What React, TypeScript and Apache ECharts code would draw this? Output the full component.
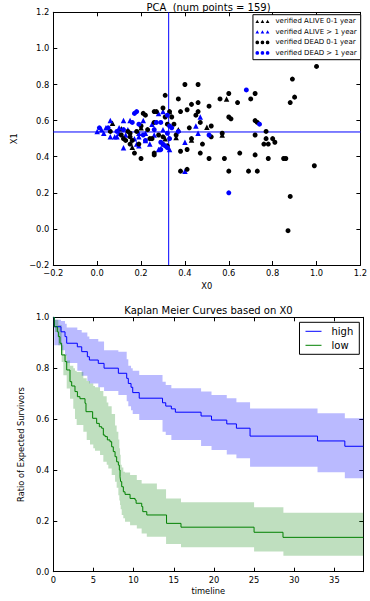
import React, { useEffect, useRef } from 'react';
import * as echarts from 'echarts';

const FONT = 'DejaVu Sans';

const pcaTitle = 'PCA  (num points = 159)';
const kmTitle = 'Kaplan Meier Curves based on X0';
const scatterNames = ['verified ALIVE 0-1 year', 'verified ALIVE > 1 year', 'verified DEAD 0-1 year', 'verified DEAD > 1 year'];
const kmNames = ['high', 'low'];

const splitX = 0.326;
const splitY = 0.537;

const aliveShort = [
  [0.07, 0.585], [0.11, 0.555], [0.16, 0.452], [0.33, 0.649], [0.36, 0.507], [0.43, 0.492],
  [0.5, 0.563], [0.57, 0.52], [0.59, 0.72], [0.37, 0.55], [0.2, 0.56], [0.31, 0.5],
];
const aliveLong = [
  [0.06, 0.6], [0.0, 0.54], [0.03, 0.53], [0.06, 0.51], [0.08, 0.51], [0.09, 0.51], [0.1, 0.53],
  [0.12, 0.6], [0.12, 0.45], [0.15, 0.6], [0.18, 0.47], [0.19, 0.53], [0.19, 0.51], [0.19, 0.46],
  [0.22, 0.53], [0.24, 0.47], [0.25, 0.58], [0.28, 0.44], [0.28, 0.64], [0.3, 0.65], [0.33, 0.44],
  [0.4, 0.48], [0.45, 0.57], [0.46, 0.53], [0.47, 0.62], [0.4, 0.32], [0.1, 0.56], [0.02, 0.55],
  [0.14, 0.55], [0.17, 0.5], [0.22, 0.49], [0.26, 0.52], [0.3, 0.55], [0.04, 0.56], [0.13, 0.52],
  [0.21, 0.6], [0.3, 0.47],
];
const deadShort = [
  [1.0, 0.9], [0.89, 0.83], [0.9, 0.73], [0.88, 0.7], [0.4, 0.8], [0.46, 0.8], [0.31, 0.74],
  [0.37, 0.72], [0.43, 0.69], [0.46, 0.7], [0.38, 0.65], [0.41, 0.66], [0.46, 0.65], [0.51, 0.68],
  [0.56, 0.72], [0.64, 0.7], [0.7, 0.72], [0.72, 0.75], [0.6, 0.75], [0.26, 0.65], [0.3, 0.67],
  [0.21, 0.64], [0.22, 0.63], [0.26, 0.59], [0.31, 0.62], [0.33, 0.65], [0.06, 0.54], [0.12, 0.5],
  [0.13, 0.49], [0.14, 0.54], [0.15, 0.53], [0.15, 0.51], [0.15, 0.47], [0.17, 0.42], [0.19, 0.47],
  [0.2, 0.39], [0.2, 0.57], [0.24, 0.5], [0.25, 0.5], [0.26, 0.42], [0.27, 0.65], [0.3, 0.51],
  [0.32, 0.58], [0.32, 0.46], [0.34, 0.62], [0.35, 0.58], [0.38, 0.43], [0.41, 0.44], [0.45, 0.63],
  [0.47, 0.59], [0.47, 0.42], [0.48, 0.47], [0.52, 0.51], [0.52, 0.57], [0.51, 0.39], [0.57, 0.53],
  [0.58, 0.39], [0.6, 0.62], [0.61, 0.61], [0.6, 0.32], [0.65, 0.42], [0.69, 0.32], [0.72, 0.6],
  [0.73, 0.59], [0.72, 0.52], [0.72, 0.41], [0.73, 0.32], [0.77, 0.54], [0.76, 0.47], [0.77, 0.5],
  [0.78, 0.47], [0.78, 0.39], [0.8, 0.5], [0.81, 0.48], [0.85, 0.39], [0.86, 0.39], [0.88, 0.18],
  [0.87, -0.01], [0.99, 0.35], [0.38, 0.32], [0.41, 0.33], [0.26, 0.41], [0.43, 0.5], [0.18, 0.54],
  [0.23, 0.55], [0.11, 0.52], [0.16, 0.49], [0.28, 0.52], [0.42, 0.56], [0.36, 0.52],
];
const deadLong = [
  [0.01, 0.56], [0.05, 0.56], [0.12, 0.55], [0.16, 0.59], [0.17, 0.64], [0.18, 0.65], [0.19, 0.58],
  [0.21, 0.52], [0.22, 0.49], [0.26, 0.55], [0.27, 0.59], [0.29, 0.59], [0.29, 0.48], [0.3, 0.47],
  [0.29, 0.44], [0.31, 0.46], [0.32, 0.45], [0.32, 0.63], [0.33, 0.57], [0.34, 0.56], [0.33, 0.5],
  [0.37, 0.54], [0.51, 0.52], [0.68, 0.77], [0.74, 0.58], [0.6, 0.2], [0.32, 0.53], [0.09, 0.54],
];

// Kaplan-Meier survival (t, s)
const highLine = [
  [0, 1.0], [0.13, 0.963], [0.96, 0.943], [1.46, 0.924], [1.67, 0.898], [2.99, 0.884], [3.54, 0.865],
  [4.24, 0.845], [4.49, 0.832], [5.6, 0.819], [6.32, 0.8], [8.1, 0.78], [9.14, 0.76], [9.34, 0.74],
  [9.68, 0.725], [9.89, 0.704], [10.7, 0.682], [13.6, 0.664], [14.0, 0.651], [14.7, 0.64],
  [15.2, 0.627], [18.4, 0.612], [19.7, 0.596], [21.6, 0.581], [22.8, 0.564], [24.5, 0.533],
  [32.9, 0.514], [36.3, 0.493], [38.6, 0.493],
];
// (t, lower, upper)
const highBand = [
  [0, 1.0, 1.0], [0.13, 0.89, 0.99], [0.96, 0.87, 0.985], [1.46, 0.85, 0.975], [1.67, 0.82, 0.96],
  [2.99, 0.79, 0.95], [3.54, 0.77, 0.94], [4.24, 0.75, 0.925], [4.49, 0.74, 0.915], [5.6, 0.725, 0.905],
  [6.32, 0.71, 0.87], [8.1, 0.695, 0.865], [9.14, 0.67, 0.835], [9.34, 0.65, 0.81], [9.68, 0.635, 0.8],
  [9.89, 0.62, 0.79], [10.7, 0.596, 0.773], [13.6, 0.55, 0.747], [14.0, 0.537, 0.734],
  [14.7, 0.518, 0.721], [18.4, 0.494, 0.708], [19.7, 0.478, 0.695], [21.6, 0.461, 0.682],
  [22.8, 0.446, 0.666], [24.5, 0.413, 0.642], [32.9, 0.391, 0.623], [36.3, 0.367, 0.603],
  [38.6, 0.367, 0.603],
];
const lowLine = [
  [0, 1.0], [0.13, 0.963], [0.5, 0.943], [0.63, 0.924], [0.83, 0.898], [1.04, 0.852], [1.46, 0.826],
  [1.67, 0.793], [2.08, 0.747], [2.29, 0.73], [2.7, 0.708], [3.0, 0.688], [3.32, 0.68], [3.95, 0.662],
  [4.07, 0.629], [4.9, 0.603], [5.4, 0.583], [5.73, 0.57], [6.02, 0.564], [6.23, 0.537], [6.44, 0.531],
  [6.73, 0.518], [7.06, 0.511], [7.27, 0.491], [7.47, 0.472], [7.69, 0.452], [7.89, 0.432],
  [8.1, 0.419], [8.22, 0.4], [8.31, 0.373], [8.39, 0.354], [8.52, 0.334], [8.72, 0.314],
  [8.93, 0.304], [9.56, 0.288], [10.18, 0.282], [10.31, 0.269], [11.01, 0.256], [11.14, 0.236],
  [11.64, 0.223], [14.1, 0.19], [15.9, 0.175], [25.0, 0.155], [28.6, 0.135], [38.6, 0.135],
];
const lowBand = [
  [0, 1.0, 1.0], [0.21, 0.942, 0.99], [0.62, 0.89, 0.97], [1.04, 0.824, 0.89], [1.25, 0.772, 0.855],
  [1.67, 0.72, 0.83], [2.08, 0.68, 0.81], [2.49, 0.641, 0.8], [2.7, 0.6, 0.79], [2.91, 0.577, 0.785],
  [3.74, 0.55, 0.76], [4.16, 0.518, 0.75], [4.57, 0.5, 0.74], [4.98, 0.485, 0.73], [5.19, 0.475, 0.725],
  [5.82, 0.459, 0.71], [6.23, 0.432, 0.69], [6.65, 0.42, 0.665], [6.85, 0.406, 0.65], [7.27, 0.38, 0.62],
  [7.69, 0.354, 0.575], [7.89, 0.33, 0.55], [8.1, 0.301, 0.52], [8.22, 0.28, 0.485], [8.31, 0.262, 0.46],
  [8.39, 0.245, 0.42], [8.52, 0.223, 0.41], [8.72, 0.21, 0.393], [8.93, 0.196, 0.39], [9.56, 0.183, 0.38],
  [10.4, 0.17, 0.36], [11.0, 0.15, 0.347], [11.64, 0.137, 0.347], [12.9, 0.137, 0.324],
  [14.04, 0.109, 0.288], [15.9, 0.096, 0.273], [25.0, 0.079, 0.253], [28.65, 0.063, 0.232],
  [38.6, 0.063, 0.232],
];

const kmMax = 38.6;
const pcaMin = -0.2;
const pcaMax = 1.2;

const triIcon = 'path://M0,5L2.5,0.5L5,5ZM7,5L9.5,0.5L12,5ZM14,5L16.5,0.5L19,5Z';
const dotIcon =
  'path://M0,2.5A2.5,2.5,0,1,0,5,2.5A2.5,2.5,0,1,0,0,2.5ZM7,2.5A2.5,2.5,0,1,0,12,2.5A2.5,2.5,0,1,0,7,2.5ZM14,2.5A2.5,2.5,0,1,0,19,2.5A2.5,2.5,0,1,0,14,2.5Z';

const minus = (s: string) => s.replace('-', '\u2212');
const fmt1 = (v: number) => minus(v.toFixed(1));

function axis(grid: number, position: string, min: number, max: number, interval: number, label: boolean, formatter: any, extra: any = {}) {
  return {
    type: 'value',
    gridIndex: grid,
    position,
    min,
    max,
    interval,
    axisLine: { show: true, onZero: false, lineStyle: { color: '#000', width: 1 } },
    axisTick: { show: true, inside: true, length: 4, lineStyle: { color: '#000' } },
    axisLabel: {
      show: label,
      fontSize: 8.3,
      color: '#000',
      fontFamily: FONT,
      margin: 4,
      showMinLabel: true,
      showMaxLabel: true,
      formatter,
    },
    splitLine: { show: false },
    nameTextStyle: { fontSize: 8.3, color: '#000', fontFamily: FONT },
    ...extra,
  };
}

// step polygon of a confidence band, through the axis scale (api.coord)
function bandSeries(name: string, data: number[][], color: string) {
  return {
    type: 'custom',
    name,
    xAxisIndex: 2,
    yAxisIndex: 2,
    silent: true,
    z: 1,
    data: [[data[0][0], data[0][1]]],
    renderItem: (_params: any, api: any) => {
      const pts: number[][] = [];
      for (let i = 0; i < data.length; i++) {
        if (i > 0) pts.push(api.coord([data[i][0], data[i - 1][2]]));
        pts.push(api.coord([data[i][0], data[i][2]]));
      }
      for (let i = data.length - 1; i >= 0; i--) {
        pts.push(api.coord([data[i][0], data[i][1]]));
        if (i > 0) pts.push(api.coord([data[i][0], data[i - 1][1]]));
      }
      return { type: 'polygon', shape: { points: pts }, style: { fill: color, stroke: 'none' } };
    },
  };
}

function buildOption() {
  const scatter = (name: string, data: number[][], symbol: string, color: string, size: number) => ({
    type: 'scatter',
    name,
    xAxisIndex: 0,
    yAxisIndex: 0,
    data,
    symbol,
    symbolSize: size,
    itemStyle: { color, opacity: 1 },
    z: 3,
  });

  const refLine = (name: string, data: number[][]) => ({
    type: 'line',
    name,
    xAxisIndex: 0,
    yAxisIndex: 0,
    data,
    symbol: 'none',
    showSymbol: false,
    silent: true,
    lineStyle: { color: '#0000ff', width: 1 },
    itemStyle: { color: '#0000ff' },
    z: 2,
  });

  const kmLine = (name: string, data: number[][], color: string) => ({
    type: 'line',
    name,
    xAxisIndex: 2,
    yAxisIndex: 2,
    data,
    step: 'end',
    symbol: 'none',
    showSymbol: false,
    lineStyle: { color, width: 1 },
    itemStyle: { color },
    z: 3,
  });

  return {
    animation: false,
    textStyle: { fontFamily: FONT },
    grid: [
      { left: 53.3, top: 12.3, width: 310, height: 252.7 },
      { left: 53.3, top: 317.3, width: 310, height: 254.4 },
    ],
    xAxis: [
      axis(0, 'bottom', pcaMin, pcaMax, 0.2, true, fmt1, { name: 'X0', nameLocation: 'middle', nameGap: 17 }),
      axis(0, 'top', pcaMin, pcaMax, 0.2, false, fmt1),
      axis(1, 'bottom', 0, kmMax, 5, true, (v: number) => (v % 5 === 0 ? String(v) : ''), {
        name: 'timeline',
        nameLocation: 'middle',
        nameGap: 15,
      }),
      axis(1, 'top', 0, kmMax, 5, false, null),
    ],
    yAxis: [
      axis(0, 'left', pcaMin, pcaMax, 0.2, true, fmt1, { name: 'X1', nameLocation: 'middle', nameGap: 27, nameRotate: 90 }),
      axis(0, 'right', pcaMin, pcaMax, 0.2, false, fmt1),
      axis(1, 'left', 0, 1, 0.2, true, fmt1, {
        name: 'Ratio of Expected Survivors',
        nameLocation: 'middle',
        nameGap: 20,
        nameRotate: 90,
      }),
      axis(1, 'right', 0, 1, 0.2, false, fmt1),
    ],
    legend: [
      {
        data: [
          { name: scatterNames[0], icon: triIcon },
          { name: scatterNames[1], icon: triIcon },
          { name: scatterNames[2], icon: dotIcon },
          { name: scatterNames[3], icon: dotIcon },
        ],
        orient: 'vertical',
        right: 9.3,
        top: 14.7,
        itemWidth: 14,
        itemHeight: 4,
        itemGap: 0,
        padding: [1.5, 4, 1.5, 2.5],
        borderColor: '#000',
        borderWidth: 1,
        backgroundColor: '#fff',
        selectedMode: false,
        textStyle: { fontSize: 7, color: '#000', fontFamily: FONT, lineHeight: 10.5, padding: [0, 0, 0, 1] },
      },
      {
        data: [
          { name: kmNames[0], icon: 'rect', itemStyle: { color: '#0000ff' } },
          { name: kmNames[1], icon: 'rect', itemStyle: { color: '#008000' } },
        ],
        orient: 'vertical',
        right: 10.7,
        top: 322.3,
        itemWidth: 16,
        itemHeight: 1,
        itemGap: 2,
        padding: [3, 6, 3, 6],
        borderColor: '#000',
        borderWidth: 1,
        backgroundColor: '#fff',
        selectedMode: false,
        textStyle: { fontSize: 10, color: '#000', fontFamily: FONT, lineHeight: 12, padding: [0, 0, 0, 5] },
      },
    ],
    graphic: [
      {
        type: 'text',
        x: 208.5,
        y: 7.5,
        style: { text: pcaTitle, align: 'center', verticalAlign: 'middle', fontSize: 10, fill: '#000', fontFamily: FONT },
      },
      {
        type: 'text',
        x: 208.5,
        y: 310.5,
        style: { text: kmTitle, align: 'center', verticalAlign: 'middle', fontSize: 10, fill: '#000', fontFamily: FONT },
      },
    ],
    series: [
      refLine('split x', [[splitX, pcaMin], [splitX, pcaMax]]),
      refLine('split y', [[pcaMin, splitY], [pcaMax, splitY]]),
      scatter(scatterNames[0], aliveShort, 'triangle', '#000', 5.5),
      scatter(scatterNames[1], aliveLong, 'triangle', '#0000ff', 5.5),
      scatter(scatterNames[2], deadShort, 'circle', '#000', 5),
      scatter(scatterNames[3], deadLong, 'circle', '#0000ff', 5),
      bandSeries('high band', highBand, 'rgba(0,0,255,0.27)'),
      bandSeries('low band', lowBand, 'rgba(0,128,0,0.25)'),
      kmLine(kmNames[0], highLine, '#0000ff'),
      kmLine(kmNames[1], lowLine, '#008000'),
    ],
  };
}

export default function App() {
  const ref = useRef<HTMLDivElement>(null);
  useEffect(() => {
    if (!ref.current) return;
    const chart = echarts.init(ref.current, null, { renderer: 'svg' });
    chart.setOption(buildOption() as any);
    return () => chart.dispose();
  }, []);
  return <div ref={ref} style={{ position: 'absolute', left: 0, top: 0, width: 370, height: 601 }} />;
}
